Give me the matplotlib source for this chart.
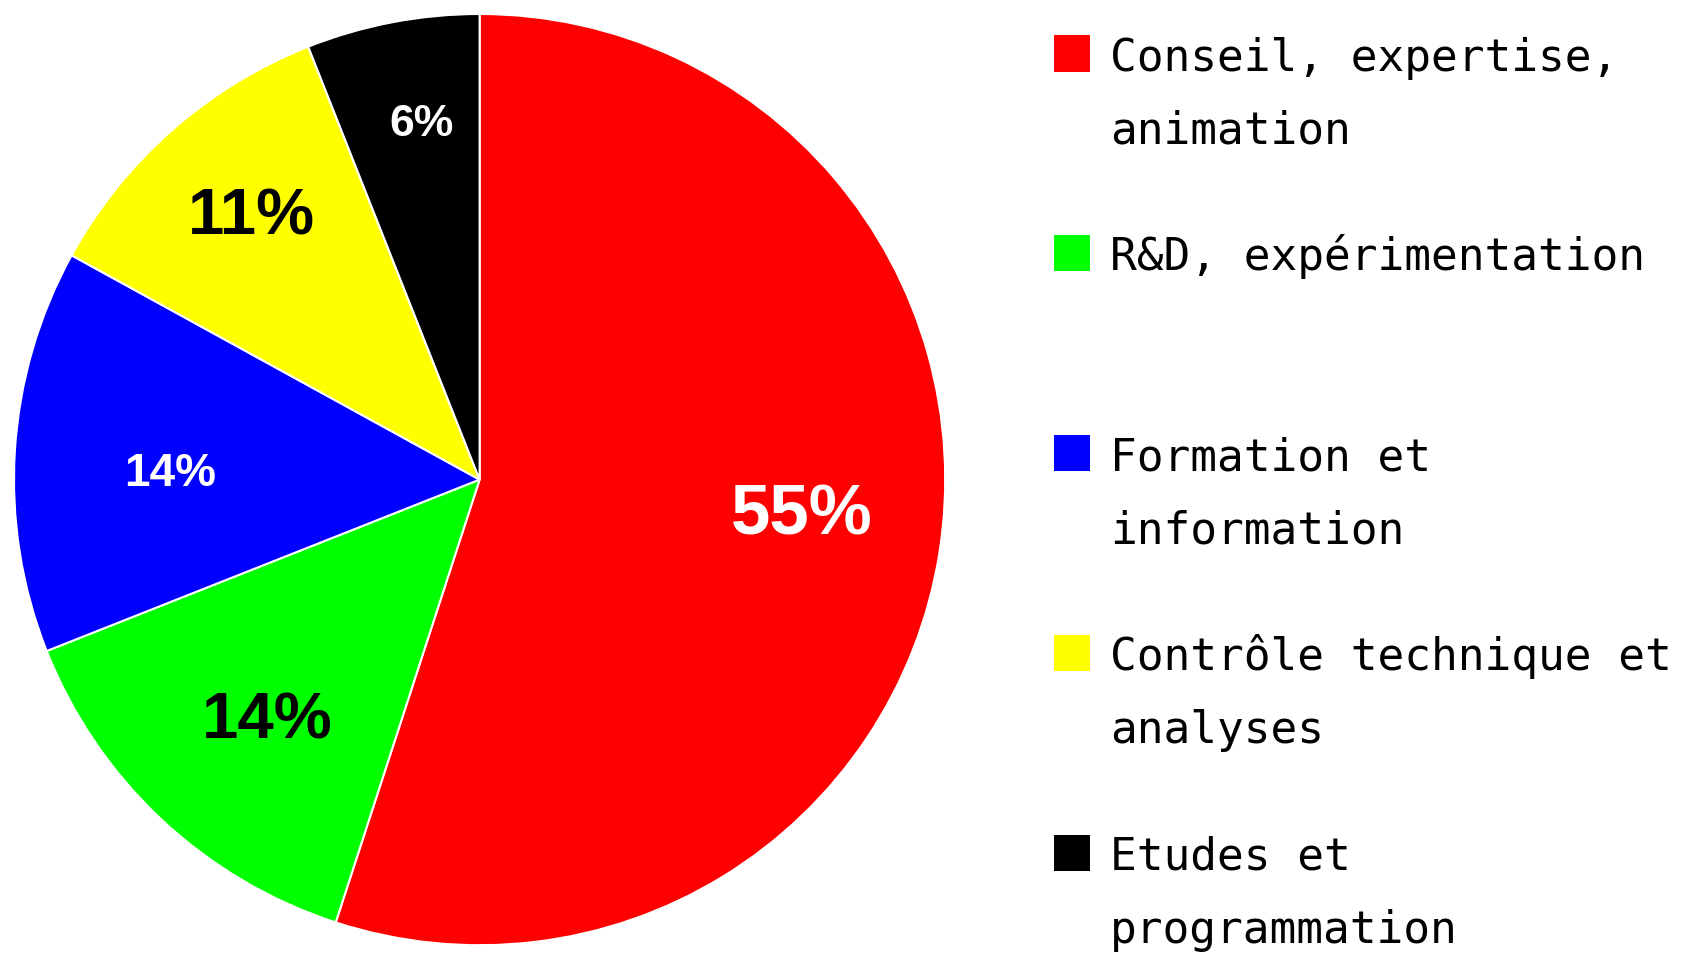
import numpy as np
import matplotlib
matplotlib.use("Agg")
import matplotlib.pyplot as plt
from matplotlib.patches import Rectangle

# Data
categories = ["Conseil, expertise,\nanimation",
              "R&D, expérimentation",
              "Formation et\ninformation",
              "Contrôle technique et\nanalyses",
              "Etudes et\nprogrammation"]
shares = [55, 14, 14, 11, 6]
colors = ["#ff0000", "#00ff00", "#0000ff", "#ffff00", "#000000"]
label_colors = ["white", "black", "white", "black", "white"]

# label placement (radius fraction, angle in degrees) and font sizes
label_pos = [(0.696, -5.5), (0.682, -132.0), (0.665, 178.0), (0.755, 130.4), (0.785, 99.1)]
label_sizes = [51, 47, 33, 47, 32]

W, H = 1686, 956
fig = plt.figure(figsize=(W / 100, H / 100), dpi=100)

cx, cy, r = 479.6, 476.4, 465.6  # pie centre / radius in pixels (y from bottom)
ax = fig.add_axes([(cx - r) / W, (cy - r) / H, 2 * r / W, 2 * r / H])
wedges, _, autotexts = ax.pie(shares, colors=colors, startangle=90, counterclock=False,
                              autopct="%.0f%%", radius=1,
                              wedgeprops=dict(edgecolor="white", linewidth=1.5))
ax.set_xlim(-1, 1)
ax.set_ylim(-1, 1)
ax.set_aspect("equal")
ax.axis("off")

for t, (rad, ang), c, s in zip(autotexts, label_pos, label_colors, label_sizes):
    a = np.deg2rad(ang)
    t.set_position((rad * np.cos(a), rad * np.sin(a) - 0.012))
    t.set_color(c)
    t.set_fontsize(s)
    t.set_fontweight("bold")
    t.set_family("Liberation Sans")
    t.set_ha("center")
    t.set_va("center")

# Legend drawn by hand to keep the two-line layout
sq_x, sq_w = 1054, 36
top0, step = 35.5, 199.8
line_h = 73
for i, (lab, col) in enumerate(zip(categories, colors)):
    top = top0 + i * step
    fig.patches.append(Rectangle((sq_x / W, 1 - (top + sq_w) / H), sq_w / W, sq_w / H,
                                 transform=fig.transFigure, facecolor=col, edgecolor="none"))
    for j, line in enumerate(lab.split("\n")):
        base = top + 35 + j * line_h
        fig.text(1110 / W, 1 - base / H, line, fontsize=32, family="DejaVu Sans Mono",
                 ha="left", va="baseline", color="black")

fig.savefig("out.png", dpi=100)
